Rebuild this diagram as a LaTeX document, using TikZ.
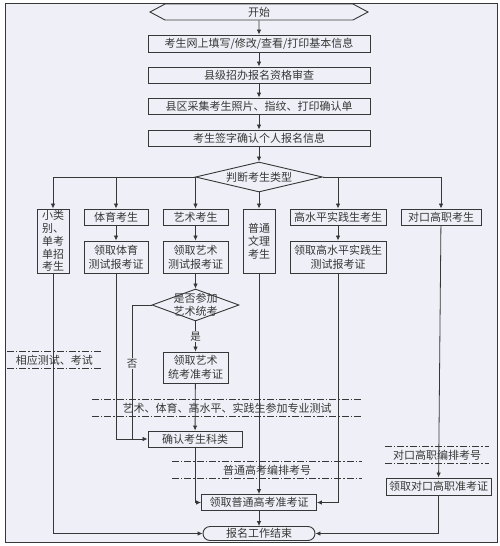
\documentclass[tikz,border=0pt]{standalone}
\usepackage{fontspec}
\newfontfamily\cjk{Noto Sans CJK SC}
\usetikzlibrary{shapes.geometric,shapes.symbols,shapes.misc,arrows.meta}
\definecolor{panel}{RGB}{239,240,247}
\definecolor{ink}{RGB}{55,55,55}
\tikzset{
  every node/.style={font=\cjk\fontsize{11}{14}\selectfont, text=ink},
  box/.style={draw=ink, fill=panel, line width=0.9pt, inner sep=0pt, align=center},
  tallbox/.style={box, font=\cjk\fontsize{11}{12.8}\selectfont, minimum width=32pt, minimum height=64pt},
  decide/.style={diamond, draw=ink, fill=panel, line width=0.9pt, inner sep=0pt},
  flow/.style={draw=ink, line width=0.8pt, -{Latex[length=5pt,width=4.5pt]}},
  wire/.style={draw=ink, line width=0.8pt},
  band/.style={inner sep=0pt, minimum height=16pt},
  bandline/.style={draw=ink, line width=0.8pt, dash pattern=on 7pt off 2pt on 1.5pt off 2pt},
  tag/.style={fill=panel, inner sep=1pt, font=\cjk\fontsize{10.5}{12}\selectfont}
}

\begin{document}
\begin{tikzpicture}[x=1pt,y=-1pt]
    \useasboundingbox (0,0) rectangle (500,546);
    \draw[ink, line width=1pt, fill=panel] (5,3) rectangle (497,542);

    \node[signal, signal to=west and east, signal pointer angle=56, draw=ink, fill=panel, line width=0.9pt,
          inner sep=0pt, minimum width=218pt, minimum height=16pt] (start) at (259,12) {开始};
    \node[box, minimum width=222pt, minimum height=17pt] (fill) at (259,43.5) {考生网上填写/修改/查看/打印基本信息};
    \node[box, minimum width=222pt, minimum height=16pt] (review) at (259,75) {县级招办报名资格审查};
    \node[box, minimum width=222pt, minimum height=16pt] (collect) at (259,106) {县区采集考生照片、指纹、打印确认单};
    \node[box, minimum width=222pt, minimum height=16pt] (sign) at (259,138) {考生签字确认个人报名信息};
    \node[decide, minimum width=127pt, minimum height=30pt, label=center:判断考生类型] (type) at (259,177) {};

    \node[tallbox] (small) at (53,241) {小类\\别、\\单考\\单招\\考生};
    \node[box, minimum width=64pt, minimum height=16pt] (sport) at (116,217) {体育考生};
    \node[box, minimum width=65pt, minimum height=16pt] (art) at (195.5,217) {艺术考生};
    \node[tallbox] (plain) at (259,241) {普通\\文理\\考生};
    \node[box, minimum width=96pt, minimum height=16pt] (high) at (338,217) {高水平实践生考生};
    \node[box, minimum width=80pt, minimum height=16pt] (voc) at (441,217) {对口高职考生};

    \node[box, minimum width=64pt, minimum height=32pt] (sportcard) at (116,257) {领取体育\\测试报考证};
    \node[box, minimum width=65pt, minimum height=32pt] (artcard) at (195.5,257) {领取艺术\\测试报考证};
    \node[box, minimum width=96pt, minimum height=32pt] (highcard) at (338,257) {领取高水平实践生\\测试报考证};

    \node[decide, minimum width=87pt, minimum height=32pt,
          label={[align=center, font=\cjk\fontsize{11}{13}\selectfont]center:是否参加\\艺术统考}] (artjoin) at (195.5,305) {};
    \node[box, minimum width=65pt, minimum height=31pt] (artexam) at (195.5,367.5) {领取艺术\\统考准考证};
    \node[box, minimum width=94pt, minimum height=16pt] (classify) at (195,439) {确认考生科类};
    \node[box, minimum width=115pt, minimum height=16pt] (general) at (259,502.5) {领取普通高考准考证};
    \node[box, minimum width=105pt, minimum height=17pt] (vocard) at (438.5,486.5) {领取对口高职准考证};
    \node[box, rounded rectangle, minimum width=112pt, minimum height=14pt] (finish) at (259,533.5) {报名工作结束};

    \node[band, minimum width=95pt] (test) at (54.5,360) {相应测试、考试};
    \node[band, minimum width=270pt] (major) at (227,408) {艺术、体育、高水平、实践生参加专业测试};
    \node[band, minimum width=190pt] (gaokao) at (267,470) {普通高考编排考号};
    \node[band, minimum width=104pt] (vocnum) at (437,455) {对口高职编排考号};
    \foreach \b in {test,major,gaokao,vocnum}
        \draw[bandline] (\b.north west) -- (\b.north east) (\b.south west) -- (\b.south east);

    \coordinate (nojoin) at (132,439);

    \draw[flow] (start) -- (fill);
    \draw[flow] (fill) -- (review);
    \draw[flow] (review) -- (collect);
    \draw[flow] (collect) -- (sign);
    \draw[flow] (sign) -- (type);
    \draw[flow] (type.west) -| (small);
    \draw[flow] (type.west) -| (sport);
    \draw[flow] (type.west) -| (art);
    \draw[flow] (type.south) -- (plain);
    \draw[flow] (type.east) -| (high);
    \draw[flow] (type.east) -| (voc);
    \draw[flow] (sport) -- (sportcard);
    \draw[flow] (art) -- (artcard);
    \draw[flow] (high) -- (highcard);
    \draw[flow] (artcard) -- (artjoin);
    \draw[flow] (artjoin) -- node[tag, pos=0.5] {是} (artexam);
    \draw[wire] (artjoin.west) -| node[tag, pos=0.72] {否} (nojoin);
    \draw[flow] (sportcard.south) |- (classify.west);
    \draw[flow] (artexam) -- (classify);
    \draw[flow] (classify.south) |- (general.west);
    \draw[flow] (plain) -- (general);
    \draw[flow] (highcard.south) |- (general.east);
    \draw[flow] (voc) -- (vocard);
    \draw[flow] (general) -- (finish);
    \draw[flow] (small.south) |- (finish.west);
    \draw[flow] (vocard.south) |- (finish.east);
\end{tikzpicture}
\end{document}
